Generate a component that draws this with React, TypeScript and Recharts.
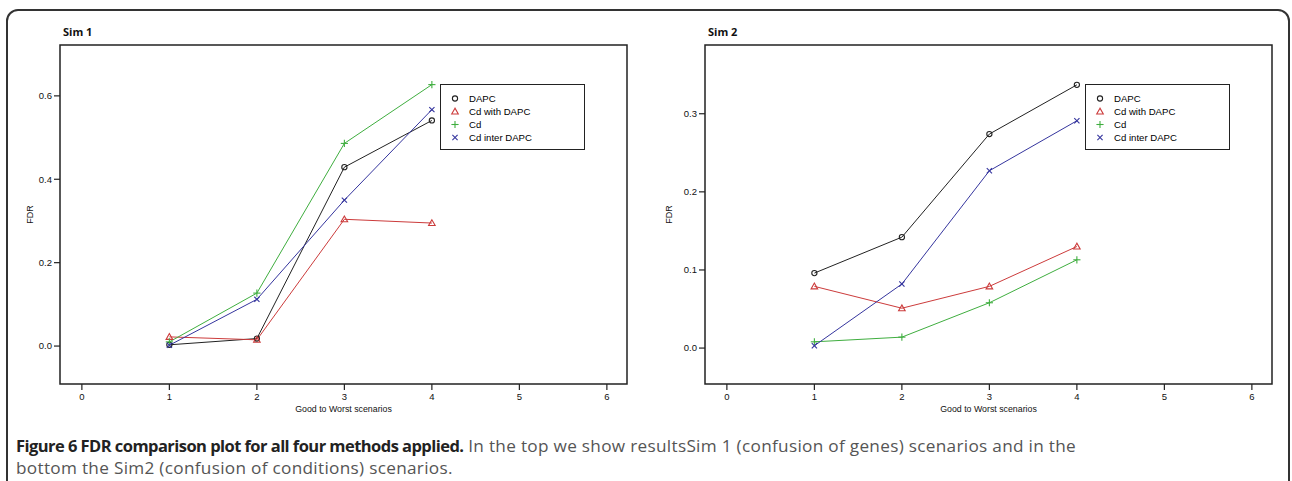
import React from "react";
import { LineChart, Line, XAxis, YAxis, ReferenceArea, Legend } from "recharts";

// scenario index on the x axis (good -> worst)
const scenarios = [1, 2, 3, 4];
const xTicks = [0, 1, 2, 3, 4, 5, 6];

const seriesNames = ["DAPC", "Cd with DAPC", "Cd", "Cd inter DAPC"];
const seriesColors = ["#222222", "#cc3b3b", "#3fae3f", "#35359e"];
const seriesShapes = ["circle", "triangle", "plus", "cross"];

// Sim 1 (confusion of genes)
const sim1Dapc = [0.003, 0.018, 0.429, 0.541];
const sim1CdWithDapc = [0.022, 0.015, 0.304, 0.295];
const sim1Cd = [0.01, 0.127, 0.486, 0.627];
const sim1CdInterDapc = [0.002, 0.112, 0.35, 0.567];
const sim1Ticks = [0, 0.2, 0.4, 0.6];

// Sim 2 (confusion of conditions)
const sim2Dapc = [0.096, 0.142, 0.274, 0.337];
const sim2CdWithDapc = [0.079, 0.051, 0.079, 0.13];
const sim2Cd = [0.008, 0.014, 0.058, 0.113];
const sim2CdInterDapc = [0.003, 0.082, 0.227, 0.291];
const sim2Ticks = [0, 0.1, 0.2, 0.3];

const AXIS_FONT = "'Liberation Sans', Arial, sans-serif";
const X_DOMAIN: [number, number] = [-0.25, 6.23];

// R style point symbols (pch 1, 2, 3, 4)
function Marker({ shape, color, cx, cy }: { shape: string; color: string; cx: number; cy: number }) {
  if (cx == null || cy == null) return null;
  if (shape === "circle") {
    return <circle cx={cx} cy={cy} r={2.6} fill="none" stroke={color} strokeWidth={1.1} />;
  }
  if (shape === "triangle") {
    const p = `${cx},${cy - 3.3} ${cx - 3.3},${cy + 2.5} ${cx + 3.3},${cy + 2.5}`;
    return <polygon points={p} fill="none" stroke={color} strokeWidth={1.1} />;
  }
  if (shape === "plus") {
    return (
      <g stroke={color} strokeWidth={1.1}>
        <line x1={cx - 3.6} y1={cy} x2={cx + 3.6} y2={cy} />
        <line x1={cx} y1={cy - 3.6} x2={cx} y2={cy + 3.6} />
      </g>
    );
  }
  return (
    <g stroke={color} strokeWidth={1.1}>
      <line x1={cx - 2.6} y1={cy - 2.6} x2={cx + 2.6} y2={cy + 2.6} />
      <line x1={cx - 2.6} y1={cy + 2.6} x2={cx + 2.6} y2={cy - 2.6} />
    </g>
  );
}

const LegendBox = () => (
  <div
    style={{
      width: 145,
      height: 66,
      boxSizing: "border-box",
      border: "1.5px solid #222",
      background: "#fff",
      paddingTop: 7,
      fontFamily: AXIS_FONT,
      fontSize: 9.6,
      color: "#000",
    }}
  >
    {seriesNames.map((name, i) => (
      <div key={name} style={{ display: "flex", alignItems: "center", height: 13 }}>
        <svg width={28} height={13} style={{ flexShrink: 0 }}>
          <Marker shape={seriesShapes[i]} color={seriesColors[i]} cx={14} cy={6.5} />
        </svg>
        <span style={{ lineHeight: "13px" }}>{name}</span>
      </div>
    ))}
  </div>
);

interface PanelProps {
  title: string;
  values: number[][];
  yDomain: [number, number];
  yTicks: number[];
  left: number;
  width: number;
  marginRight: number;
  fdrOffset: number;
  legendLeft: number;
}

function Panel({ title, values, yDomain, yTicks, left, width, marginRight, fdrOffset, legendLeft }: PanelProps) {
  const data = scenarios.map((x, i) => {
    const row: Record<string, number> = { x };
    seriesNames.forEach((name, s) => {
      row[name] = values[s][i];
    });
    return row;
  });

  return (
    <div style={{ position: "absolute", left, top: 0, width, height: 420 }}>
      <div
        style={{
          position: "absolute",
          left: 63,
          top: 24,
          fontFamily: "'Open Sans', sans-serif",
          fontWeight: 700,
          fontSize: 11,
          color: "#111",
          whiteSpace: "nowrap",
        }}
      >
        {title}
      </div>
      <LineChart width={width} height={420} data={data} margin={{ top: 45, right: marginRight, bottom: 6, left: 10 }}>
        <XAxis
          dataKey="x"
          type="number"
          domain={X_DOMAIN}
          ticks={xTicks}
          allowDataOverflow
          height={30}
          axisLine={false}
          tickSize={6}
          tickMargin={3}
          tickLine={{ stroke: "#222", strokeWidth: 1.2 }}
          tick={{ fontFamily: AXIS_FONT, fontSize: 9.5, fill: "#111" }}
          label={{
            value: "Good to Worst scenarios",
            position: "insideBottom",
            offset: 2,
            style: { fontFamily: AXIS_FONT, fontSize: 8.8, fill: "#111" },
          }}
        />
        <YAxis
          type="number"
          domain={yDomain}
          ticks={yTicks}
          allowDataOverflow
          width={50}
          axisLine={false}
          tickSize={6}
          tickMargin={2}
          tickLine={{ stroke: "#222", strokeWidth: 1.2 }}
          tickFormatter={(v: number) => v.toFixed(1)}
          tick={{ fontFamily: AXIS_FONT, fontSize: 9.5, fill: "#111" }}
          label={{
            value: "FDR",
            angle: -90,
            position: "insideLeft",
            offset: fdrOffset,
            style: { fontFamily: AXIS_FONT, fontSize: 9, fill: "#111", textAnchor: "middle" },
          }}
        />
        <ReferenceArea
          x1={X_DOMAIN[0]}
          x2={X_DOMAIN[1]}
          y1={yDomain[0]}
          y2={yDomain[1]}
          fill="none"
          fillOpacity={0}
          stroke="#222"
          strokeWidth={1.5}
          ifOverflow="visible"
        />
        {seriesNames.map((name, i) => (
          <Line
            key={name}
            dataKey={name}
            type="linear"
            stroke={seriesColors[i]}
            strokeWidth={1}
            isAnimationActive={false}
            dot={(p: any) => (
              <Marker key={`${name}-${p.index}`} shape={seriesShapes[i]} color={seriesColors[i]} cx={p.cx} cy={p.cy} />
            )}
            activeDot={false}
          />
        ))}
        <Legend
          layout="horizontal"
          verticalAlign="middle"
          content={() => <LegendBox />}
          wrapperStyle={{ position: "absolute", left: legendLeft, top: 84, width: 145, height: 66 }}
        />
      </LineChart>
    </div>
  );
}

const regularText = { fontSize: 17.2, letterSpacing: "0.3px", color: "#555" };

export default function App() {
  return (
    <div
      style={{
        position: "absolute",
        left: 0,
        top: 0,
        width: 1292,
        height: 481,
        overflow: "hidden",
        background: "#fff",
      }}
    >
      <div
        style={{
          position: "absolute",
          left: 6,
          top: 9,
          width: 1284,
          height: 520,
          boxSizing: "border-box",
          border: "2px solid #333",
          borderRadius: 12,
        }}
      />
      <Panel
        title="Sim 1"
        values={[sim1Dapc, sim1CdWithDapc, sim1Cd, sim1CdInterDapc]}
        yDomain={[-0.091, 0.722]}
        yTicks={sim1Ticks}
        left={0}
        width={645}
        marginRight={18}
        fdrOffset={20}
        legendLeft={440}
      />
      <Panel
        title="Sim 2"
        values={[sim2Dapc, sim2CdWithDapc, sim2Cd, sim2CdInterDapc]}
        yDomain={[-0.046, 0.388]}
        yTicks={sim2Ticks}
        left={645}
        width={640}
        marginRight={13}
        fdrOffset={14}
        legendLeft={440}
      />
      <div
        style={{
          position: "absolute",
          left: 16,
          top: 435,
          fontFamily: "'Open Sans', sans-serif",
          lineHeight: "22px",
          whiteSpace: "nowrap",
        }}
      >
        <div style={{ height: 22 }}>
          <span style={{ fontWeight: 700, fontSize: 16.5, letterSpacing: "-0.55px", color: "#222" }}>
            Figure 6 FDR comparison plot for all four methods applied.
          </span>
          <span style={regularText}> In the top we show resultsSim 1 (confusion of genes) scenarios and in the</span>
        </div>
        <div style={{ ...regularText, height: 22 }}>bottom the Sim2 (confusion of conditions) scenarios.</div>
      </div>
    </div>
  );
}
